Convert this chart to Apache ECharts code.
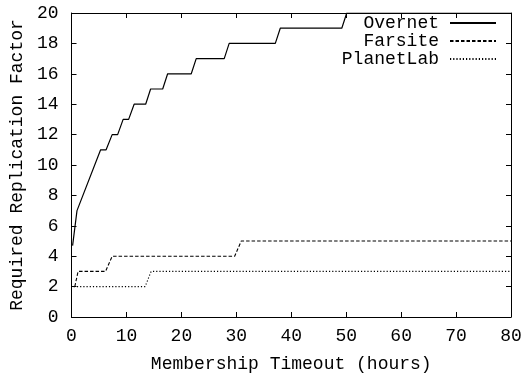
<!DOCTYPE html>
<html>
<head>
<meta charset="utf-8">
<script src="https://cdn.jsdelivr.net/npm/echarts@6/dist/echarts.min.js"></script>
<style>
  html, body { margin: 0; padding: 0; background: #fff; }
  #chart { width: 532px; height: 378px; }
</style>
</head>
<body>
<div id="chart"></div>
<script>
// Timeout (hours) and required replication factor per system
const overnetHours = [0.2, 1, 5.3, 6.3, 7.4, 8.4, 9.4, 10.4, 11.4, 13.5, 14.4, 16.6, 17.5, 21.8, 22.7, 27.8, 28.7, 37.1, 38.0, 49.2, 50.1, 80];
const overnetFactor = [4.7, 7, 11, 11, 12, 12, 13, 13, 14, 14, 15, 15, 16, 16, 17, 17, 18, 18, 19, 19, 20, 20];

const farsiteHours = [0.6, 1.2, 6.2, 7.4, 29.7, 30.9, 80];
const farsiteFactor = [2, 3, 3, 4, 4, 5, 5];

const planetLabHours = [0.4, 13.4, 14.5, 80];
const planetLabFactor = [2, 2, 3, 3];

const xTicks = { min: 0, max: 80, interval: 10 };
const yTicks = { min: 0, max: 20, interval: 2 };

const FONT = 'Liberation Mono';
const INK = '#000';

function pairs(xs, ys) { return xs.map((x, i) => [x, ys[i]]); }

const baseAxis = {
  type: 'value',
  axisLine: { show: true, onZero: false, lineStyle: { color: INK, width: 1 } },
  axisTick: { show: true, inside: true, length: 5, lineStyle: { color: INK, width: 1 } },
  splitLine: { show: false },
};

const chart = echarts.init(document.getElementById('chart'), null, { renderer: 'canvas' });
chart.setOption({
  animation: false,
  backgroundColor: '#fff',
  textStyle: { fontFamily: FONT, color: INK },
  grid: { left: 69, right: 21, top: 13, bottom: 56, containLabel: false },
  legend: {
    orient: 'vertical',
    right: 30,
    top: 9,
    align: 'right',
    itemWidth: 46,
    itemHeight: 10,
    itemGap: 0,
    // keep only the line sample in each legend key
    itemStyle: { opacity: 0 },
    textStyle: { fontFamily: FONT, fontSize: 18, lineHeight: 18, color: INK, padding: [0, 6, 0, 0] },
    data: ['Overnet', 'Farsite', 'PlanetLab']
  },
  xAxis: [
    Object.assign({}, baseAxis, {
      position: 'bottom', min: xTicks.min, max: xTicks.max, interval: xTicks.interval,
      name: 'Membership Timeout (hours)', nameLocation: 'middle', nameGap: 38,
      nameTextStyle: { fontFamily: FONT, fontSize: 18, color: INK },
      axisLabel: { margin: 10, fontFamily: FONT, fontSize: 18, color: INK }
    }),
    Object.assign({}, baseAxis, {
      position: 'top', min: xTicks.min, max: xTicks.max, interval: xTicks.interval,
      axisLabel: { show: false }
    })
  ],
  yAxis: [
    Object.assign({}, baseAxis, {
      position: 'left', min: yTicks.min, max: yTicks.max, interval: yTicks.interval,
      name: 'Required Replication Factor', nameLocation: 'middle', nameGap: 38,
      nameTextStyle: { fontFamily: FONT, fontSize: 18, color: INK },
      axisLabel: { margin: 13, fontFamily: FONT, fontSize: 18, color: INK }
    }),
    Object.assign({}, baseAxis, {
      position: 'right', min: yTicks.min, max: yTicks.max, interval: yTicks.interval,
      axisLabel: { show: false }
    })
  ],
  series: [
    {
      name: 'Overnet', type: 'line', symbol: 'none', clip: true,
      data: pairs(overnetHours, overnetFactor),
      lineStyle: { color: INK, width: 1.2, type: 'solid' },
      itemStyle: { color: INK }
    },
    {
      name: 'Farsite', type: 'line', symbol: 'none', clip: true,
      data: pairs(farsiteHours, farsiteFactor),
      lineStyle: { color: INK, width: 1.1, type: [3.5, 2] },
      itemStyle: { color: INK }
    },
    {
      name: 'PlanetLab', type: 'line', symbol: 'none', clip: true,
      data: pairs(planetLabHours, planetLabFactor),
      lineStyle: { color: INK, width: 1.1, type: [1.2, 2] },
      itemStyle: { color: INK }
    }
  ]
});
</script>
</body>
</html>
